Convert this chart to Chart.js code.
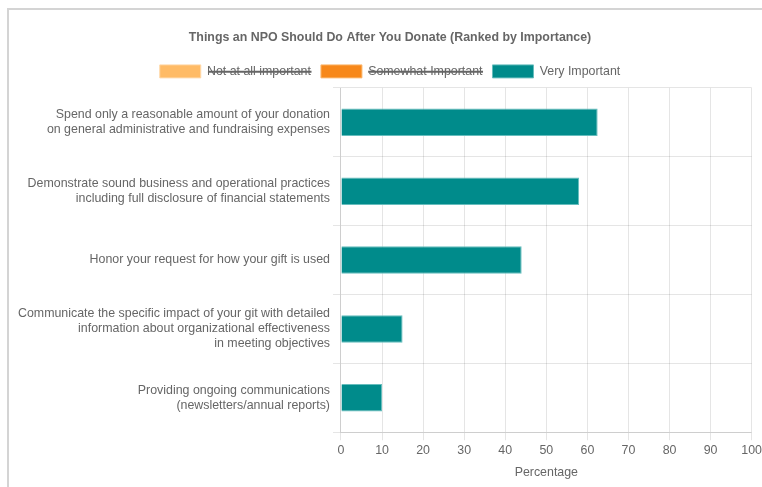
<!DOCTYPE html>
<html>
<head>
<meta charset="utf-8">
<script src="https://cdn.jsdelivr.net/npm/chart.js@4/dist/chart.umd.min.js"></script>
<style>
  body { margin: 0; background: #fff; overflow: hidden; }
  #frame { position: absolute; left: 7px; top: 8px; width: 800px; height: 520px;
           border-left: 2px solid #d4d4d4; border-top: 2px solid #d4d4d4; }
  #wrap { position: absolute; left: 15px; top: 12px; width: 750px; height: 472px; }
</style>
</head>
<body>
<div id="frame"></div>
<div id="wrap"><canvas id="npoChart"></canvas></div>
<script>
var categories = [
    ["Spend only a reasonable amount of your donation", "on general administrative and fundraising expenses"],
    ["Demonstrate sound business and operational practices", "including full disclosure of financial statements"],
    "Honor your request for how your gift is used",
    ["Communicate the specific impact of your git with detailed", "information about organizational effectiveness", "in meeting objectives"],
    ["Providing ongoing communications", "(newsletters/annual reports)"]
];
var notImportant = [5, 6, 10, 22, 28];
var somewhatImportant = [32.5, 36, 46, 63, 62];
var veryImportant = [62.5, 58, 44, 15, 10];

Chart.defaults.font.family = "'Liberation Sans', Arial, sans-serif";
Chart.defaults.font.size = 12.4;
Chart.defaults.color = '#666';

var ctx = document.getElementById("npoChart").getContext('2d');

var npoChart = new Chart(ctx,
{
    type: 'bar',
    data:
    {
        labels: categories,
        datasets: [
        {
            label: "Not at all important",
            backgroundColor: "#FFBB66",
            borderColor: "#FFD8A8",
            borderWidth: 1,
            hidden: true,
            data: notImportant
        },
        {
            label: "Somewhat Important",
            backgroundColor: "#F7881A",
            borderColor: "#FBB870",
            borderWidth: 1,
            hidden: true,
            data: somewhatImportant
        },
        {
            label: "Very Important",
            backgroundColor: "#008B8B",
            borderColor: "#66BDBD",
            borderWidth: 1,
            data: veryImportant
        }]
    },
    options:
    {
        indexAxis: 'y',
        responsive: true,
        maintainAspectRatio: false,
        animation: false,
        categoryPercentage: 0.8,
        barPercentage: 0.5,
        plugins:
        {
            title:
            {
                display: true,
                text: "Things an NPO Should Do After You Donate (Ranked by Importance)",
                color: '#666',
                font: { size: 12.4, weight: 'bold' },
                padding: { top: 18, bottom: 10 }
            },
            legend:
            {
                labels: { boxWidth: 41, boxHeight: 13 }
            },
            tooltip: { enabled: false }
        },
        scales:
        {
            x:
            {
                stacked: true,
                min: 0,
                max: 100,
                ticks: { stepSize: 10 },
                title: { display: true, text: "Percentage" }
            },
            y:
            {
                stacked: true
            }
        }
    }
});
</script>
</body>
</html>
